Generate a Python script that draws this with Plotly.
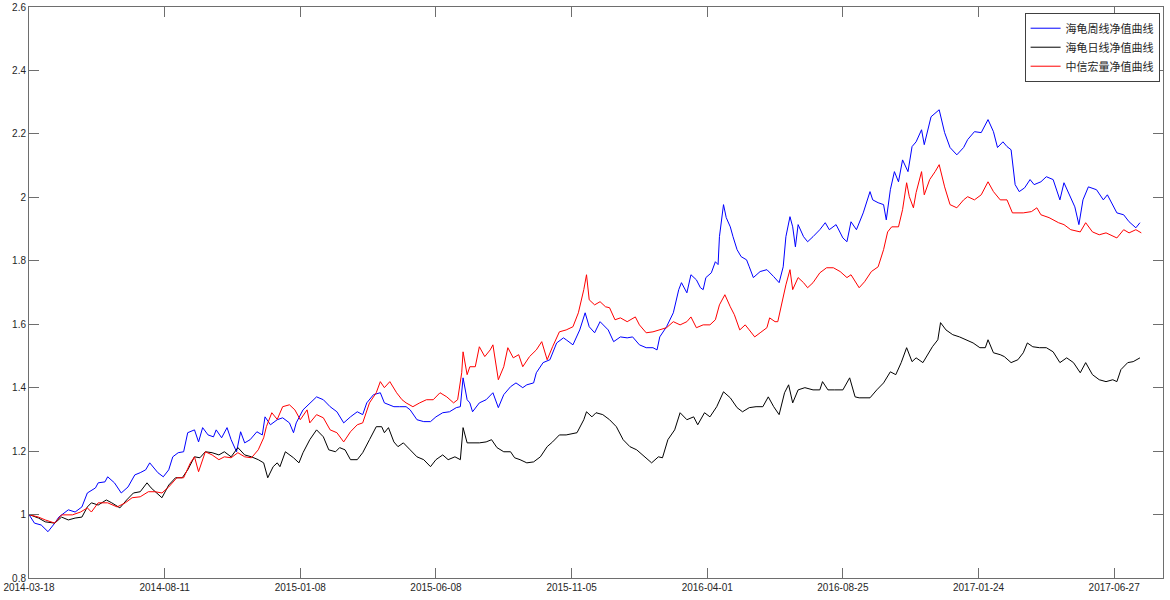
import plotly.graph_objects as go

# trading-day index (0 = 2014-03-18) and net value
weekly_days = [0, 4, 9, 14, 19, 22, 29, 34, 39, 43, 49, 51, 56, 58, 63, 68, 73, 78, 82, 86, 89, 93, 95, 99,
               103, 106, 110, 114, 117, 122, 125, 128, 132, 136, 138, 142, 146, 149, 153, 156, 159, 163,
               168, 172, 174, 178, 183, 187, 192, 195, 197, 202, 207, 212, 217, 222, 227, 232, 237, 242,
               246, 249, 254, 259, 262, 269, 273, 278, 281, 286, 291, 296, 300, 305, 310, 315, 318, 320,
               323, 325, 327, 332, 337, 342, 346, 350, 355, 359, 364, 367, 372, 374, 379, 384, 389, 394,
               396, 401, 406, 410, 413, 417, 421, 425, 427, 431, 436, 441, 445, 450, 455, 460, 463, 465,
               470, 475, 479, 481, 485, 488, 492, 495, 497, 499, 503, 506, 508, 509, 512, 514, 517, 519,
               522, 525, 529, 531, 534, 539, 544, 549, 553, 556, 558, 561, 563, 565, 567, 571, 574, 578,
               583, 587, 590, 595, 600, 603, 606, 610, 615, 620, 622, 626, 630, 632, 635, 638, 641, 644,
               648, 651, 654, 658, 660, 665, 669, 671, 675, 679, 684, 689, 692, 697, 702, 707, 711, 714,
               718, 721, 724, 727, 730, 734, 738, 741, 746, 750, 755, 760, 763, 767, 771, 774, 777, 781,
               787, 792, 795, 802, 807, 811, 816, 819]
weekly_nav = [1.000, 0.973, 0.967, 0.946, 0.973, 0.992, 1.015, 1.008, 1.024, 1.068, 1.084, 1.100, 1.103,
              1.119, 1.100, 1.068, 1.087, 1.125, 1.132, 1.141, 1.163, 1.141, 1.132, 1.119, 1.141, 1.182,
              1.195, 1.198, 1.258, 1.267, 1.229, 1.274, 1.251, 1.245, 1.267, 1.242, 1.274, 1.236, 1.198,
              1.261, 1.226, 1.236, 1.261, 1.251, 1.308, 1.283, 1.299, 1.305, 1.289, 1.258, 1.289, 1.330,
              1.352, 1.371, 1.362, 1.340, 1.324, 1.289, 1.308, 1.324, 1.315, 1.352, 1.378, 1.384, 1.352,
              1.340, 1.340, 1.340, 1.330, 1.299, 1.293, 1.293, 1.308, 1.321, 1.324, 1.337, 1.340, 1.431,
              1.362, 1.352, 1.324, 1.352, 1.362, 1.384, 1.337, 1.378, 1.403, 1.415, 1.400, 1.409, 1.415,
              1.447, 1.479, 1.488, 1.541, 1.557, 1.551, 1.535, 1.582, 1.636, 1.592, 1.573, 1.608, 1.592,
              1.582, 1.545, 1.560, 1.557, 1.560, 1.535, 1.526, 1.526, 1.519, 1.560, 1.592, 1.636, 1.709,
              1.731, 1.699, 1.756, 1.740, 1.715, 1.709, 1.747, 1.762, 1.797, 1.788, 1.876, 1.977, 1.936,
              1.907, 1.876, 1.835, 1.813, 1.803, 1.781, 1.747, 1.766, 1.772, 1.750, 1.731, 1.781, 1.876,
              1.939, 1.907, 1.844, 1.914, 1.876, 1.860, 1.876, 1.898, 1.920, 1.898, 1.914, 1.872, 1.860,
              1.923, 1.898, 1.951, 2.018, 1.992, 1.983, 1.977, 1.929, 2.024, 2.081, 2.049, 2.118, 2.081,
              2.160, 2.175, 2.213, 2.166, 2.254, 2.270, 2.276, 2.204, 2.157, 2.134, 2.157, 2.182, 2.207,
              2.204, 2.245, 2.207, 2.157, 2.175, 2.160, 2.150, 2.040, 2.018, 2.030, 2.056, 2.040, 2.049,
              2.065, 2.056, 1.992, 2.046, 2.008, 1.970, 1.914, 1.992, 2.033, 2.024, 1.992, 2.008, 1.951,
              1.945, 1.923, 1.904, 1.920]

daily_days = [0, 7, 12, 19, 24, 29, 34, 39, 43, 46, 51, 57, 61, 67, 72, 77, 82, 87, 90, 94, 98, 103, 108,
              113, 117, 122, 126, 130, 135, 140, 144, 149, 154, 159, 164, 169, 173, 176, 180, 183, 185,
              189, 195, 199, 202, 207, 212, 217, 221, 226, 229, 233, 237, 242, 246, 251, 256, 260, 262,
              265, 269, 272, 276, 281, 286, 291, 296, 300, 305, 309, 314, 318, 320, 323, 327, 332, 337,
              341, 345, 350, 355, 358, 362, 367, 372, 377, 382, 386, 391, 396, 404, 409, 411, 415, 418,
              423, 428, 433, 438, 443, 448, 454, 459, 464, 467, 471, 476, 480, 485, 490, 493, 498, 502,
              507, 512, 517, 522, 526, 531, 536, 541, 545, 549, 553, 557, 560, 563, 567, 572, 578, 583,
              585, 589, 594, 600, 605, 609, 612, 620, 625, 630, 635, 639, 643, 647, 651, 654, 659, 663,
              666, 670, 672, 676, 681, 686, 691, 696, 701, 705, 707, 711, 716, 719, 724, 729, 733, 736,
              740, 745, 750, 755, 760, 765, 770, 775, 779, 784, 789, 794, 799, 802, 805, 810, 814, 819]
daily_nav = [1.000, 0.989, 0.977, 0.973, 0.992, 0.983, 0.989, 0.992, 1.024, 1.037, 1.030, 1.046, 1.037,
             1.021, 1.046, 1.068, 1.072, 1.100, 1.084, 1.068, 1.053, 1.093, 1.116, 1.116, 1.141, 1.182,
             1.179, 1.198, 1.195, 1.188, 1.198, 1.182, 1.211, 1.188, 1.182, 1.173, 1.163, 1.116, 1.151,
             1.163, 1.151, 1.198, 1.179, 1.163, 1.195, 1.236, 1.267, 1.245, 1.204, 1.198, 1.211, 1.204,
             1.173, 1.173, 1.195, 1.236, 1.277, 1.277, 1.258, 1.274, 1.229, 1.214, 1.226, 1.204, 1.182,
             1.173, 1.151, 1.173, 1.188, 1.173, 1.182, 1.173, 1.274, 1.226, 1.226, 1.226, 1.229, 1.236,
             1.211, 1.198, 1.198, 1.179, 1.173, 1.163, 1.166, 1.182, 1.214, 1.229, 1.251, 1.251, 1.258,
             1.299, 1.324, 1.308, 1.321, 1.315, 1.299, 1.277, 1.236, 1.214, 1.204, 1.182, 1.163, 1.182,
             1.179, 1.236, 1.267, 1.321, 1.299, 1.308, 1.283, 1.321, 1.308, 1.340, 1.387, 1.368, 1.337,
             1.324, 1.337, 1.340, 1.340, 1.371, 1.340, 1.315, 1.384, 1.409, 1.352, 1.393, 1.400, 1.393,
             1.393, 1.419, 1.393, 1.393, 1.393, 1.431, 1.371, 1.368, 1.368, 1.393, 1.415, 1.450, 1.441,
             1.479, 1.526, 1.482, 1.494, 1.479, 1.510, 1.529, 1.551, 1.605, 1.582, 1.567, 1.560, 1.551,
             1.541, 1.526, 1.526, 1.551, 1.510, 1.504, 1.498, 1.479, 1.488, 1.510, 1.541, 1.529, 1.526,
             1.526, 1.513, 1.479, 1.494, 1.479, 1.447, 1.479, 1.441, 1.425, 1.419, 1.425, 1.419, 1.457,
             1.479, 1.482, 1.494]

citic_days = [0, 7, 12, 19, 24, 32, 38, 43, 46, 51, 58, 65, 71, 76, 82, 88, 93, 98, 103, 109, 114, 119,
              122, 125, 130, 135, 140, 144, 149, 154, 159, 164, 169, 173, 175, 179, 183, 187, 192, 196,
              200, 205, 207, 212, 217, 222, 227, 232, 237, 242, 246, 251, 256, 259, 262, 266, 271, 275,
              278, 283, 288, 293, 298, 303, 308, 313, 316, 319, 320, 323, 325, 329, 332, 336, 340, 342,
              346, 350, 353, 357, 361, 364, 369, 374, 378, 382, 386, 391, 396, 401, 405, 409, 411, 413,
              417, 421, 425, 428, 432, 436, 441, 447, 450, 455, 460, 465, 470, 475, 480, 485, 488, 492,
              497, 502, 506, 509, 513, 517, 520, 524, 528, 531, 535, 539, 544, 546, 550, 552, 555, 558,
              561, 563, 567, 571, 574, 578, 583, 588, 593, 598, 603, 606, 612, 616, 621, 626, 630, 633,
              636, 641, 644, 647, 649, 652, 654, 658, 660, 664, 668, 671, 675, 679, 684, 689, 692, 697,
              702, 707, 711, 716, 721, 725, 733, 739, 743, 746, 752, 759, 763, 768, 775, 779, 784, 789,
              794, 802, 807, 811, 816, 820]
citic_nav = [1.000, 0.992, 0.983, 0.973, 0.999, 0.999, 1.008, 1.021, 1.008, 1.037, 1.037, 1.024, 1.037,
             1.053, 1.056, 1.072, 1.072, 1.068, 1.087, 1.116, 1.116, 1.163, 1.182, 1.135, 1.198, 1.188,
             1.173, 1.182, 1.179, 1.195, 1.182, 1.179, 1.204, 1.242, 1.277, 1.321, 1.300, 1.340, 1.346,
             1.330, 1.299, 1.330, 1.289, 1.315, 1.305, 1.267, 1.258, 1.229, 1.261, 1.283, 1.289, 1.352,
             1.384, 1.419, 1.400, 1.419, 1.384, 1.362, 1.352, 1.340, 1.352, 1.362, 1.362, 1.384, 1.371,
             1.352, 1.362, 1.447, 1.513, 1.441, 1.466, 1.466, 1.529, 1.498, 1.519, 1.535, 1.425, 1.466,
             1.526, 1.494, 1.504, 1.466, 1.498, 1.519, 1.545, 1.488, 1.529, 1.576, 1.582, 1.592, 1.636,
             1.709, 1.756, 1.677, 1.661, 1.671, 1.655, 1.652, 1.614, 1.620, 1.608, 1.623, 1.598, 1.573,
             1.576, 1.582, 1.589, 1.608, 1.598, 1.608, 1.623, 1.589, 1.598, 1.598, 1.614, 1.661, 1.693,
             1.655, 1.630, 1.582, 1.598, 1.582, 1.560, 1.573, 1.589, 1.620, 1.608, 1.608, 1.668, 1.724,
             1.772, 1.709, 1.747, 1.731, 1.715, 1.731, 1.762, 1.778, 1.778, 1.766, 1.747, 1.756, 1.715,
             1.734, 1.766, 1.781, 1.835, 1.891, 1.907, 1.907, 1.961, 2.046, 2.002, 1.967, 2.015, 2.081,
             2.008, 2.056, 2.081, 2.103, 2.033, 1.977, 1.967, 1.992, 2.002, 1.992, 2.008, 2.049, 2.018,
             1.992, 1.992, 1.951, 1.951, 1.955, 1.967, 1.945, 1.936, 1.920, 1.914, 1.898, 1.891, 1.920,
             1.891, 1.882, 1.888, 1.872, 1.898, 1.888, 1.898, 1.888]

tick_days = [0, 100, 200, 300, 400, 500, 600, 700, 800]
tick_dates = ['2014-03-18', '2014-08-11', '2015-01-08', '2015-06-08', '2015-11-05',
              '2016-04-01', '2016-08-25', '2017-01-24', '2017-06-27']

fig = go.Figure()
fig.add_trace(go.Scatter(x=weekly_days, y=weekly_nav, mode='lines', name='海龟周线净值曲线',
                         line=dict(color='#0000ff', width=1)))
fig.add_trace(go.Scatter(x=daily_days, y=daily_nav, mode='lines', name='海龟日线净值曲线',
                         line=dict(color='#000000', width=1)))
fig.add_trace(go.Scatter(x=citic_days, y=citic_nav, mode='lines', name='中信宏量净值曲线',
                         line=dict(color='#ff0000', width=1)))

axis_style = dict(showline=True, linecolor='#6e6e6e', linewidth=1, mirror='ticks',
                  ticks='inside', ticklen=10, tickcolor='#6e6e6e', showgrid=False,
                  zeroline=False, automargin=False,
                  tickfont=dict(size=10, color='#262626', family='Liberation Sans, Arial, sans-serif'))

fig.update_xaxes(range=[0, 836], tickvals=tick_days, ticktext=tick_dates, **axis_style)
fig.update_yaxes(range=[0.8, 2.6], dtick=0.2, tick0=0.8, **axis_style)

fig.update_layout(width=1170, height=600,
                  margin=dict(l=29, r=7, t=7, b=22),
                  paper_bgcolor='white', plot_bgcolor='white',
                  legend=dict(x=0.997, y=0.99, xanchor='right', yanchor='top',
                              bgcolor='white', bordercolor='#404040', borderwidth=1,
                              itemwidth=30, tracegroupgap=0,
                              font=dict(size=11, color='#262626',
                                        family='Noto Sans CJK SC, sans-serif')))

# drop the page's default 8px body margin so the figure sits at the window corner
fig.write_html('out.html', config={'displayModeBar': False},
               post_script="document.body.style.margin = '0';")
